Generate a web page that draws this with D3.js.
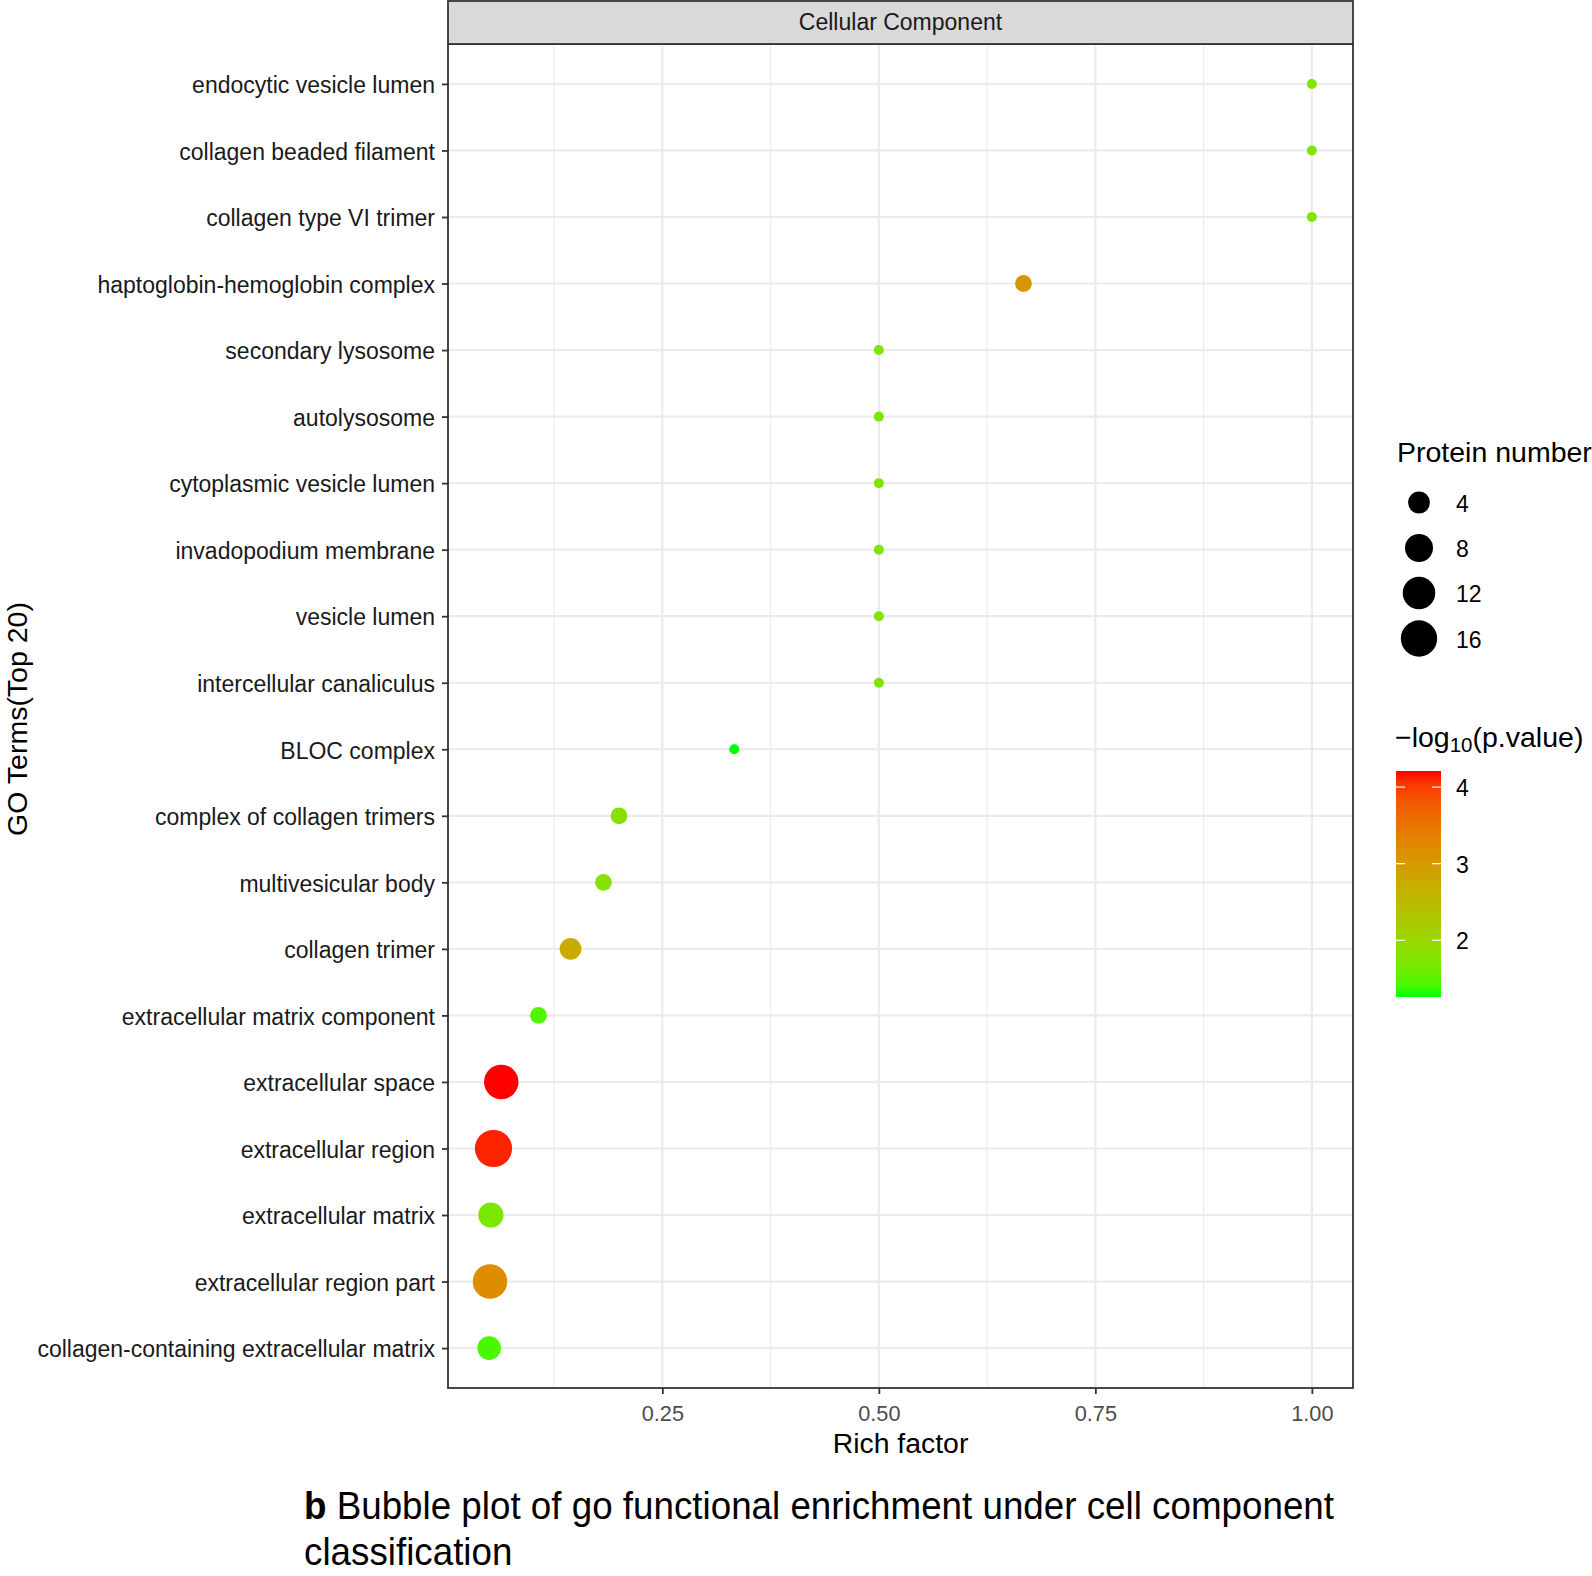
<!DOCTYPE html>
<html><head><meta charset="utf-8">
<script src="https://cdn.jsdelivr.net/npm/d3@7"></script>
<style>body{margin:0;background:#fff;} svg{display:block;font-family:"Liberation Sans",Arial,sans-serif;}</style>
</head><body><svg id="c" width="1592" height="1576"></svg>
<script>
const terms = ["endocytic vesicle lumen","collagen beaded filament","collagen type VI trimer","haptoglobin-hemoglobin complex","secondary lysosome","autolysosome","cytoplasmic vesicle lumen","invadopodium membrane","vesicle lumen","intercellular canaliculus","BLOC complex","complex of collagen trimers","multivesicular body","collagen trimer","extracellular matrix component","extracellular space","extracellular region","extracellular matrix","extracellular region part","collagen-containing extracellular matrix"];
const richFactor = [1.0,1.0,1.0,0.667,0.5,0.5,0.5,0.5,0.5,0.5,0.333,0.2,0.182,0.144,0.107,0.064,0.055,0.052,0.051,0.050];
const proteinNumber = [1,1,1,2,1,1,1,1,1,1,1,2,2,4,2,14,17,6,14,5];
const negLogP = [1.75,1.75,1.75,3.05,1.75,1.75,1.75,1.75,1.75,1.75,1.26,1.85,1.8,2.75,1.45,4.21,4.14,1.7,3.2,1.4];
const xTicks = [0.25,0.5,0.75,1.0];
const xMinor = [0.125,0.375,0.625,0.875];
const sizeBreaks = [4,8,12,16];
const colorBreaks = [2,3,4];

const svg = d3.select("#c");
const L=448,R=1353,T=44,B=1388,stripTop=0;
const x = d3.scaleLinear().domain([0.0025,1.0475]).range([L,R]);
const y = d3.scalePoint().domain(terms).range([T,B]).padding(0.6);
const pMin = d3.min(negLogP), pMax = d3.max(negLogP);
const color = d3.scaleLinear().domain([pMin,pMax]).range(["#00ff00","#ff0000"]).interpolate(d3.interpolateLab);
const nMin = 1;
const dScale = d3.scaleLinear().domain([0,1]).range([10,16.8]);
const rad = n => dScale(Math.sqrt(n-nMin))/2;

svg.append("rect").attr("x",L).attr("y",T).attr("width",R-L).attr("height",B-T).attr("fill","#fff");
svg.append("g").selectAll("line").data(xMinor).join("line")
  .attr("x1",d=>x(d)).attr("x2",d=>x(d)).attr("y1",T).attr("y2",B)
  .attr("stroke","#ebebeb").attr("stroke-width",1.1);
svg.append("g").selectAll("line").data(xTicks).join("line")
  .attr("x1",d=>x(d)).attr("x2",d=>x(d)).attr("y1",T).attr("y2",B)
  .attr("stroke","#ebebeb").attr("stroke-width",2.2);
svg.append("g").selectAll("line").data(terms).join("line")
  .attr("x1",L).attr("x2",R).attr("y1",d=>y(d)).attr("y2",d=>y(d))
  .attr("stroke","#ebebeb").attr("stroke-width",2.2);

const pts = terms.map((t,i)=>({t,rf:richFactor[i],n:proteinNumber[i],p:negLogP[i]}));
svg.append("g").selectAll("circle").data(pts).join("circle")
  .attr("cx",d=>x(d.rf)).attr("cy",d=>y(d.t)).attr("r",d=>rad(d.n))
  .attr("fill",d=>color(d.p));

svg.append("rect").attr("x",L).attr("y",T).attr("width",R-L).attr("height",B-T)
  .attr("fill","none").attr("stroke","#333").attr("stroke-width",1.8);
svg.append("rect").attr("x",L).attr("y",stripTop+1).attr("width",R-L).attr("height",T-stripTop-1)
  .attr("fill","#d9d9d9").attr("stroke","#333").attr("stroke-width",1.8);
svg.append("text").attr("x",(L+R)/2).attr("y",30).attr("text-anchor","middle")
  .attr("font-size",23).attr("fill","#1a1a1a").text("Cellular Component");

const xAxis = d3.axisBottom(x).tickValues(xTicks).tickFormat(d3.format(".2f")).tickSize(6).tickPadding(5);
const gx = svg.append("g").attr("transform",`translate(0,${B})`).call(xAxis);
gx.select(".domain").remove();
gx.selectAll("line").attr("stroke","#333").attr("stroke-width",1.8);
gx.selectAll("text").attr("font-size",21.7).attr("fill","#4d4d4d").attr("font-family","Liberation Sans, Arial, sans-serif")
  .attr("y",33).attr("dy",null);

const yAxis = d3.axisLeft(y).tickSize(6).tickPadding(6);
const gy = svg.append("g").attr("transform",`translate(${L},0)`).call(yAxis);
gy.select(".domain").remove();
gy.selectAll("line").attr("stroke","#333").attr("stroke-width",1.8);
gy.selectAll("text").attr("font-size",23).attr("fill","#1a1a1a").attr("font-family","Liberation Sans, Arial, sans-serif")
  .attr("x",-13).attr("dy","0.38em");

svg.append("text").attr("x",(L+R)/2).attr("y",1453).attr("text-anchor","middle")
  .attr("font-size",28.4).attr("fill","#000").text("Rich factor");
svg.append("text").attr("transform",`translate(17,719) rotate(-90)`).attr("text-anchor","middle")
  .attr("dominant-baseline","central").attr("font-size",28.5).attr("fill","#000").text("GO Terms(Top 20)");

svg.append("text").attr("x",1397).attr("y",452).attr("dominant-baseline","central").attr("font-size",28.5).text("Protein number");
const legY = [502.5,548,593,638.5];
const gs = svg.append("g");
gs.selectAll("circle").data(sizeBreaks).join("circle")
  .attr("cx",1419).attr("cy",(d,i)=>legY[i]).attr("r",d=>rad(d)).attr("fill","#000");
gs.selectAll("text").data(sizeBreaks).join("text")
  .attr("x",1456).attr("y",(d,i)=>legY[i]+1).attr("dominant-baseline","central").attr("font-size",23).text(d=>d);

const ct = svg.append("text").attr("x",1395).attr("y",737).attr("dominant-baseline","central").attr("font-size",28.5);
ct.append("tspan").text("\u2212log");
ct.append("tspan").attr("font-size",20.5).attr("dy",7).text("10");
ct.append("tspan").attr("dy",-7).text("(p.value)");
const cbX=1396,cbW=45,cbT=771,cbB=997;
const cy = d3.scaleLinear().domain([pMin,pMax]).range([cbB,cbT]);
const defs = svg.append("defs");
const grad = defs.append("linearGradient").attr("id","cg").attr("x1",0).attr("y1",1).attr("x2",0).attr("y2",0);
d3.range(0,1.0001,0.05).forEach(t=>{
  grad.append("stop").attr("offset",t).attr("stop-color",color(pMin+t*(pMax-pMin)));
});
svg.append("rect").attr("x",cbX).attr("y",cbT).attr("width",cbW).attr("height",cbB-cbT).attr("fill","url(#cg)");
const gc = svg.append("g");
colorBreaks.forEach(v=>{
  gc.append("line").attr("x1",cbX).attr("x2",cbX+9).attr("y1",cy(v)).attr("y2",cy(v)).attr("stroke","#fff").attr("stroke-width",1.2);
  gc.append("line").attr("x1",cbX+cbW-9).attr("x2",cbX+cbW).attr("y1",cy(v)).attr("y2",cy(v)).attr("stroke","#fff").attr("stroke-width",1.2);
  gc.append("text").attr("x",1456).attr("y",cy(v)+1).attr("dominant-baseline","central").attr("font-size",23).text(v);
});

const cap = svg.append("text").attr("x",304).attr("y",1519).attr("font-size",39).attr("fill","#000");
cap.append("tspan").attr("font-weight","bold").text("b");
cap.append("tspan").text(" Bubble plot of go functional enrichment under cell component");
const cap2 = svg.append("text").attr("x",304).attr("y",1565).attr("font-size",39).attr("fill","#000").text("classification");
const w1 = cap.node().getComputedTextLength();
cap.attr("textLength",1030).attr("lengthAdjust","spacingAndGlyphs");
cap2.attr("textLength",cap2.node().getComputedTextLength()*1030/w1).attr("lengthAdjust","spacingAndGlyphs");
</script></body></html>
